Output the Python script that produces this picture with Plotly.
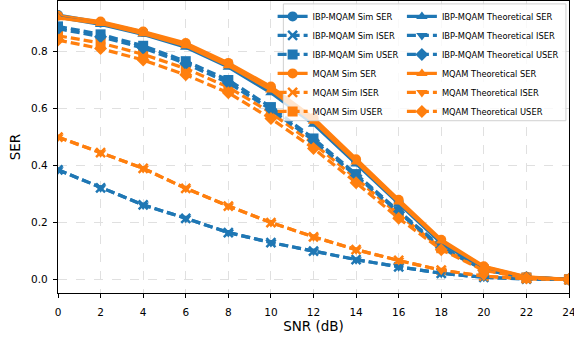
import plotly.graph_objects as go

snr = [0, 2, 4, 6, 8, 10, 12, 14, 16, 18, 20, 22, 24]

ibp_sim_ser = [0.928, 0.902, 0.868, 0.825, 0.757, 0.670, 0.560, 0.415, 0.272, 0.132, 0.042, 0.008, 0.001]
ibp_sim_iser = [0.385, 0.322, 0.262, 0.215, 0.165, 0.130, 0.100, 0.070, 0.045, 0.022, 0.008, 0.002, 0.000]
ibp_sim_user = [0.888, 0.860, 0.820, 0.766, 0.700, 0.605, 0.495, 0.370, 0.240, 0.115, 0.035, 0.007, 0.001]
mq_sim_ser = [0.925, 0.905, 0.870, 0.830, 0.760, 0.677, 0.567, 0.422, 0.280, 0.140, 0.047, 0.010, 0.001]
mq_sim_iser = [0.500, 0.445, 0.390, 0.320, 0.258, 0.200, 0.150, 0.105, 0.067, 0.033, 0.012, 0.003, 0.000]
mq_sim_user = [0.855, 0.830, 0.790, 0.740, 0.675, 0.585, 0.477, 0.355, 0.228, 0.110, 0.035, 0.007, 0.001]

ibp_th_ser = [0.920, 0.895, 0.860, 0.815, 0.745, 0.655, 0.545, 0.405, 0.265, 0.128, 0.040, 0.008, 0.001]
ibp_th_iser = [0.385, 0.322, 0.262, 0.215, 0.165, 0.130, 0.100, 0.070, 0.045, 0.022, 0.008, 0.002, 0.000]
ibp_th_user = [0.880, 0.852, 0.812, 0.758, 0.690, 0.597, 0.488, 0.364, 0.236, 0.112, 0.034, 0.007, 0.001]
mq_th_ser = [0.918, 0.898, 0.862, 0.820, 0.750, 0.665, 0.555, 0.412, 0.272, 0.135, 0.045, 0.009, 0.001]
mq_th_iser = [0.500, 0.445, 0.390, 0.320, 0.258, 0.200, 0.150, 0.105, 0.067, 0.033, 0.012, 0.003, 0.000]
mq_th_user = [0.840, 0.810, 0.770, 0.718, 0.655, 0.565, 0.460, 0.340, 0.215, 0.105, 0.032, 0.006, 0.001]

BLUE = "#1f77b4"
ORANGE = "#ff7f0e"

series = [
    ("IBP-MQAM Sim SER", ibp_sim_ser, BLUE, "solid", "circle", "legend"),
    ("IBP-MQAM Sim ISER", ibp_sim_iser, BLUE, "dash", "x-thin-open", "legend"),
    ("IBP-MQAM Sim USER", ibp_sim_user, BLUE, "dash", "square", "legend"),
    ("MQAM Sim SER", mq_sim_ser, ORANGE, "solid", "circle", "legend"),
    ("MQAM Sim ISER", mq_sim_iser, ORANGE, "dash", "x-thin-open", "legend"),
    ("MQAM Sim USER", mq_sim_user, ORANGE, "dash", "square", "legend"),
    ("IBP-MQAM Theoretical SER", ibp_th_ser, BLUE, "solid", "triangle-up", "legend2"),
    ("IBP-MQAM Theoretical ISER", ibp_th_iser, BLUE, "dash", "triangle-down", "legend2"),
    ("IBP-MQAM Theoretical USER", ibp_th_user, BLUE, "dash", "diamond", "legend2"),
    ("MQAM Theoretical SER", mq_th_ser, ORANGE, "solid", "triangle-up", "legend2"),
    ("MQAM Theoretical ISER", mq_th_iser, ORANGE, "dash", "triangle-down", "legend2"),
    ("MQAM Theoretical USER", mq_th_user, ORANGE, "dash", "diamond", "legend2"),
]

fig = go.Figure()
for name, vals, col, dash, sym, leg in series:
    is_x = sym.startswith("x")
    fig.add_trace(go.Scatter(
        x=snr, y=vals, name=name, mode="lines+markers", legend=leg,
        line=dict(color=col, width=3.2, dash=dash if dash == "solid" else "9px,4px"),
        marker=dict(symbol=sym, size=10 if not is_x else 9, color=col,
                    line=dict(color=col, width=2.5 if is_x else 0)),
    ))

legfont = dict(size=8.3, family="DejaVu Sans", color="black")
fig.update_layout(
    width=574, height=339,
    margin=dict(l=58, r=5, t=1, b=46, autoexpand=False),
    paper_bgcolor="white", plot_bgcolor="white",
    font=dict(family="DejaVu Sans", size=10.5, color="black"),
    showlegend=True,
    legend=dict(x=0.42, y=0.997, xanchor="left", yanchor="top",
                font=legfont, bgcolor="rgba(0,0,0,0)", borderwidth=0,
                itemwidth=30, tracegroupgap=0),
    legend2=dict(x=0.673, y=0.997, xanchor="left", yanchor="top",
                 font=legfont, bgcolor="rgba(0,0,0,0)", borderwidth=0,
                 itemwidth=30, tracegroupgap=0),
    shapes=[dict(type="rect", xref="paper", yref="paper", layer="above",
                 x0=0.441, x1=0.994, y0=0.59, y1=0.99,
                 fillcolor="rgba(255,255,255,0.8)", line=dict(color="#d0d0d0", width=1))],
    xaxis=dict(
        range=[0, 24], tickvals=list(range(0, 25, 2)), automargin=False,
        ticklabeloverflow="allow", ticklabelstandoff=5,
        title=dict(text="SNR (dB)", font=dict(size=13.5), standoff=4),
        showgrid=True, gridcolor="#e0e0e0", griddash="dash", gridwidth=1,
        showline=True, linecolor="black", linewidth=1.2, mirror=True,
        ticks="outside", ticklen=4, tickcolor="black", zeroline=False,
    ),
    yaxis=dict(
        range=[-0.047, 0.977], tickvals=[0, 0.2, 0.4, 0.6, 0.8], tickformat=".1f",
        automargin=False, ticklabelstandoff=3,
        title=dict(text="SER", font=dict(size=13.5), standoff=7),
        showgrid=True, gridcolor="#e0e0e0", griddash="dash", gridwidth=1,
        showline=True, linecolor="black", linewidth=1.2, mirror=True,
        ticks="outside", ticklen=4, tickcolor="black", zeroline=False,
    ),
)

fig.write_html("out.html", config={"displayModeBar": False},
               post_script="document.body.style.margin='0';document.body.style.overflow='hidden';")
